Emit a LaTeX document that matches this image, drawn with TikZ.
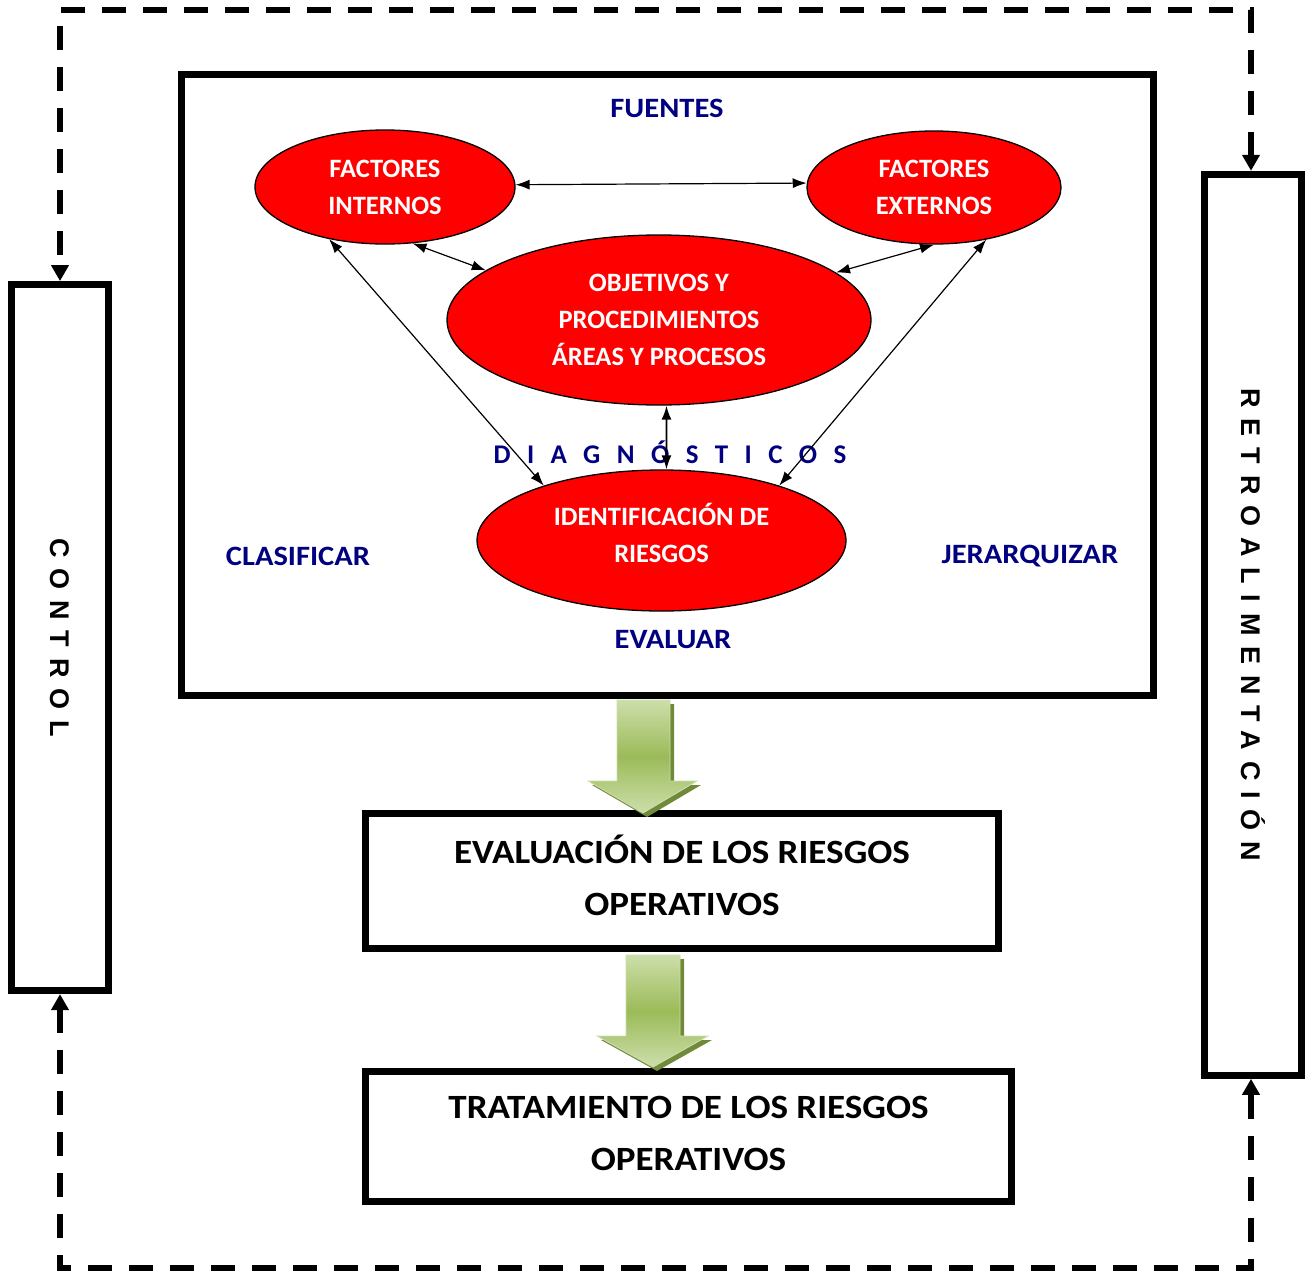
\documentclass[tikz,border=0pt]{standalone}
\usepackage{fontspec}
\setmainfont{Carlito}
\newfontfamily\widefont{Carlito}[FakeStretch=1.09]
\newfontfamily\diagfont{Carlito}[LetterSpace=61]
\newfontfamily\sidefont{Liberation Sans}[LetterSpace=40]
\usetikzlibrary{shapes.geometric,arrows.meta,calc}

\definecolor{labelblue}{RGB}{0,0,128}
\definecolor{olivelt}{RGB}{205,222,170}
\definecolor{olivemd}{RGB}{155,187,89}
\definecolor{olivedk}{RGB}{112,138,58}

\tikzset{
  frame/.style={draw, line width=7pt, inner sep=0pt, fill=white},
  ell/.style={ellipse, draw, fill=red, line width=1.3pt, text=white, align=center,
    inner sep=0pt, font=\bfseries\fontsize{26.5}{37}\selectfont},
  boxtext/.style={align=center, font=\widefont\bfseries\fontsize{34}{52}\selectfont},
  lab/.style={text=labelblue, font=\widefont\bfseries\fontsize{28}{30}\selectfont},
  link/.style={line width=1.2pt, {Latex[length=14pt,width=10pt]}-{Latex[length=14pt,width=10pt]}},
  loopline/.style={line width=6pt, dash pattern=on 24pt off 17pt,
    {Triangle[length=16pt,width=17pt]}-{Triangle[length=16pt,width=17pt]}},
  blockshadow/.style={fill=olivedk},
  blockarrow/.style={draw=olivelt, line width=0.8pt, top color=olivelt, bottom color=olivelt, middle color=olivemd}
}

\begin{document}
\begin{tikzpicture}[x=1pt,y=-1pt]
\useasboundingbox (0,0) rectangle (1307,1272);

% corners of the dashed feedback loop
\coordinate (tl) at (60,10);
\coordinate (tr) at (1251,10);
\coordinate (bl) at (60,1268);
\coordinate (br) at (1251,1268);

% side boxes
\node[frame, minimum width=97pt, minimum height=706pt] (ctrl) at (59.7,637.6)
  {\rotatebox{-90}{\sidefont\bfseries\fontsize{27}{30}\selectfont CONTROL}};
\node[frame, minimum width=97pt, minimum height=901pt] (retro) at (1253.3,624.8)
  {\rotatebox{-90}{\sidefont\bfseries\fontsize{27}{30}\selectfont RETROALIMENTACIÓN}};

% dashed loop
\draw[loopline] (tr |- retro.north) -- (tr) -- (tl) -- (tl |- ctrl.north);
\draw[loopline] (bl |- ctrl.south) -- (bl) -- (br) -- (br |- retro.south);

% main box
\node[frame, minimum width=972pt, minimum height=621pt] (main) at (667.6,385) {};

% ellipses
\node[ell, minimum width=260pt, minimum height=114pt] (fi) at (385,187) {FACTORES\\INTERNOS};
\node[ell, minimum width=254pt, minimum height=113pt] (fe) at (934,187.5) {FACTORES\\EXTERNOS};
\node[ell, minimum width=424pt, minimum height=170pt] (obj) at (659,320)
  {OBJETIVOS Y\\PROCEDIMIENTOS\\ÁREAS Y PROCESOS};
\node[ell, minimum width=369pt, minimum height=141pt,
  label={[align=center, text=white, font=\bfseries\fontsize{26.5}{37}\selectfont, yshift=8pt]center:{IDENTIFICACIÓN DE\\RIESGOS}}]
  (id) at (661.5,540.5) {};

% labels
\node[lab] (fuentes) at (667,108) {FUENTES};
\node[lab] (clas) at (298,556) {CLASIFICAR};
\node[lab] (jer) at (1030,556) {JERARQUIZAR};
\node[lab] (evr) at (673,640) {EVALUAR};
\node[text=labelblue, font=\diagfont\bfseries\fontsize{27}{30}\selectfont] (diag) at (670,452) {DIAGNÓSTICOS};

% links between ellipses
\draw[link] (fi.1.8) -- (fe.178.2);
\draw[link] (fi.-64.6) -- (obj.164.7);
\draw[link] (fe.-90) -- (obj.15);
\draw[link] (fi.-137) -- (id.155.5);
\draw[link] (fe.-45) -- (id.25.3);
\draw[link, line width=1.8pt] (obj.-85.3) -- (id.86.3);

% lower boxes
\node[frame, minimum width=633pt, minimum height=135pt,
  label={[boxtext, yshift=6pt]center:{EVALUACIÓN DE LOS RIESGOS\\OPERATIVOS}}] (eval) at (682,881) {};
\node[frame, minimum width=646pt, minimum height=130pt,
  label={[boxtext, yshift=3pt]center:{TRATAMIENTO DE LOS RIESGOS\\OPERATIVOS}}] (trat) at (688.5,1136.5) {};

% green block arrows
\fill[blockshadow] (621,704) -- (674,704) -- (674,785) -- (701,785) -- (647,817) -- (592,785) -- (621,785) -- cycle;
\shade[blockarrow] (617,700) -- (670,700) -- (670,781) -- (697,781) -- (643,813) -- (588,781) -- (617,781) -- cycle;
\fill[blockshadow] (630,959) -- (684,959) -- (684,1040) -- (712,1040) -- (657,1071) -- (601,1040) -- (630,1040) -- cycle;
\shade[blockarrow] (626,955) -- (680,955) -- (680,1036) -- (708,1036) -- (653,1067) -- (597,1036) -- (626,1036) -- cycle;
\end{tikzpicture}
\end{document}
